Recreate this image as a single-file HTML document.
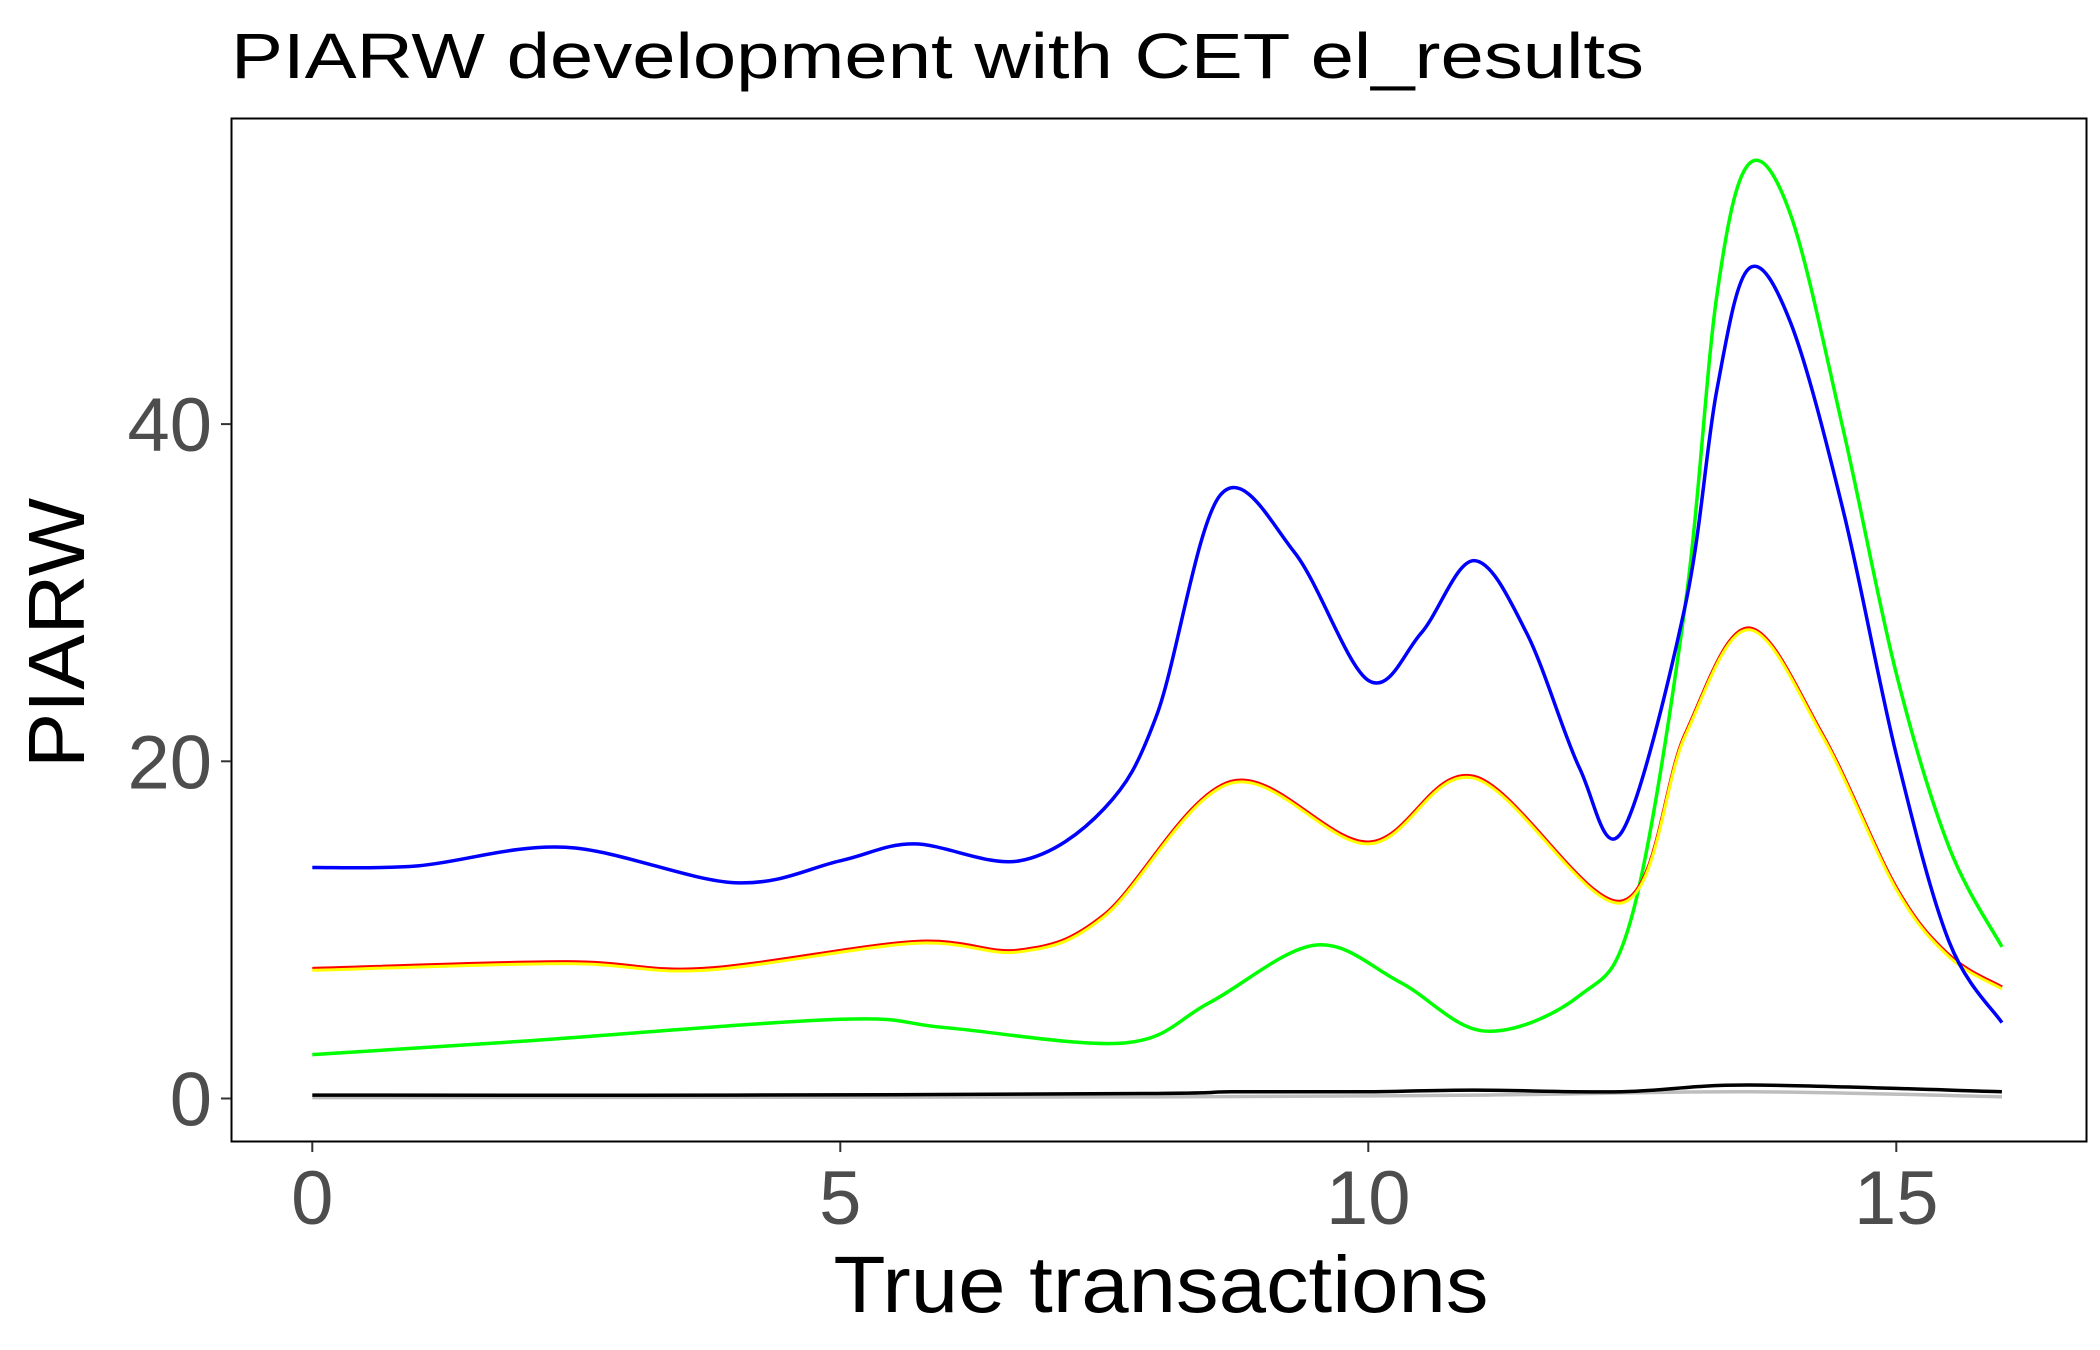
<!DOCTYPE html>
<html><head><meta charset="utf-8"><style>
html,body{margin:0;padding:0;background:#fff;}
svg{display:block;font-family:"Liberation Sans",sans-serif;}
</style></head><body>
<svg id="chart" width="2100" height="1350" viewBox="0 0 2100 1350">
<text x="231" y="78" font-size="64" fill="#000" textLength="1413" lengthAdjust="spacingAndGlyphs">PIARW development with CET el_results</text>
<rect x="231.5" y="118.5" width="1855" height="1023" fill="none" stroke="#000" stroke-width="2"/>
<g id="xaxis"></g>
<g id="yaxis"></g>
<g id="series"></g>
<text x="1161" y="1312" font-size="80" text-anchor="middle" fill="#000" textLength="655" lengthAdjust="spacingAndGlyphs">True transactions</text>
<text transform="translate(84,633) rotate(-90)" font-size="80" text-anchor="middle" fill="#000" textLength="270" lengthAdjust="spacingAndGlyphs">PIARW</text>
</svg>
<script>
const xTicks=[0,5,10,15];
const yTicks=[0,20,40];
const blueX=[0,1,2.4,4,5,5.7,6.7,7.5,8,8.6,9.3,10,10.5,11,11.5,12,12.4,13,13.3,13.6,14,14.5,15,15.5,16];
const blueY=[13.7,13.8,14.9,12.8,14.1,15.1,14.1,17.2,22.8,35.8,32.4,24.8,27.6,31.9,27.6,19.6,15.8,29.2,42,49.2,46,34.8,20.4,9.3,4.5];
const greenX=[0,2,5,6,7.7,8.5,9.5,10.3,11.1,12,12.5,13,13.3,13.6,14,14.5,15,15.5,16];
const greenY=[2.6,3.4,4.7,4.2,3.3,5.7,9.1,6.9,4.0,6.1,10.9,29.2,47.6,55.4,52.4,39.6,25.2,14.9,9.0];
const redX=[0,2.4,3.7,5.7,6.7,7.5,8.7,10,11,12.4,13,13.6,14.3,15,15.5,16];
const redY=[7.7,8.1,7.7,9.3,8.8,10.9,18.8,15.2,19.1,11.7,21.6,27.9,21.6,12.5,8.5,6.6];
const blackX=[0,4,8,8.7,10,11,12.4,13.6,16];
const blackY=[0.2,0.2,0.3,0.4,0.4,0.5,0.4,0.8,0.4];
const grayX=[0,8,11,13.6,16];
const grayY=[0.05,0.1,0.2,0.4,0.1];
const sx=v=>312.3+v*105.6, sy=v=>1098.5-v*16.86;
const NS='http://www.w3.org/2000/svg';
function path(xs,ys){
  const p=xs.map((x,i)=>[sx(x),sy(ys[i])]);
  let d='M'+p[0][0]+','+p[0][1];
  for(let i=0;i<p.length-1;i++){
    const p0=p[i-1]||p[i],p1=p[i],p2=p[i+1],p3=p[i+2]||p2;
    d+=' C'+(p1[0]+(p2[0]-p0[0])/6)+','+(p1[1]+(p2[1]-p0[1])/6)+' '+(p2[0]-(p3[0]-p1[0])/6)+','+(p2[1]-(p3[1]-p1[1])/6)+' '+p2[0]+','+p2[1];
  }
  return d;
}
const xa=document.getElementById('xaxis'),ya=document.getElementById('yaxis'),sg=document.getElementById('series');
xTicks.forEach(t=>{
  const l=document.createElementNS(NS,'line');
  
  
  l.setAttribute('x1',sx(t));l.setAttribute('x2',sx(t));l.setAttribute('y1',1142);l.setAttribute('y2',1152);l.setAttribute('stroke','#333');l.setAttribute('stroke-width',2);
  xa.appendChild(l);
  const tx=document.createElementNS(NS,'text');
  
  
  tx.setAttribute('x',sx(t));tx.setAttribute('y',1224);tx.setAttribute('text-anchor','middle');tx.setAttribute('font-size','76');tx.setAttribute('fill','#4D4D4D');
  tx.textContent=t;xa.appendChild(tx);
});
yTicks.forEach(t=>{
  const l=document.createElementNS(NS,'line');
  
  
  l.setAttribute('x1',221);l.setAttribute('x2',231);l.setAttribute('y1',sy(t));l.setAttribute('y2',sy(t));l.setAttribute('stroke','#333');l.setAttribute('stroke-width',2);
  ya.appendChild(l);
  const tx=document.createElementNS(NS,'text');
  
  
  tx.setAttribute('x',212);tx.setAttribute('y',sy(t)+27);tx.setAttribute('text-anchor','end');tx.setAttribute('font-size','76');tx.setAttribute('fill','#4D4D4D');
  tx.textContent=t;ya.appendChild(tx);
});
[[grayX,grayY,'#BEBEBE','gray'],[blackX,blackY,'#000','black'],[greenX,greenY,'#00FF00','green'],[redX,redY,'#FF0000','red'],[redX,redY.map(v=>v-0.1),'#FFFF00','yellow'],[blueX,blueY,'#0000FF','blue']].forEach(s=>{
  const p=document.createElementNS(NS,'path');
  
  
  p.setAttribute('d',path(s[0],s[1]));p.setAttribute('fill','none');p.setAttribute('stroke',s[2]);p.setAttribute('stroke-width',s[3]==='yellow'?3:3.5);
  sg.appendChild(p);
});
</script>
</body></html>
